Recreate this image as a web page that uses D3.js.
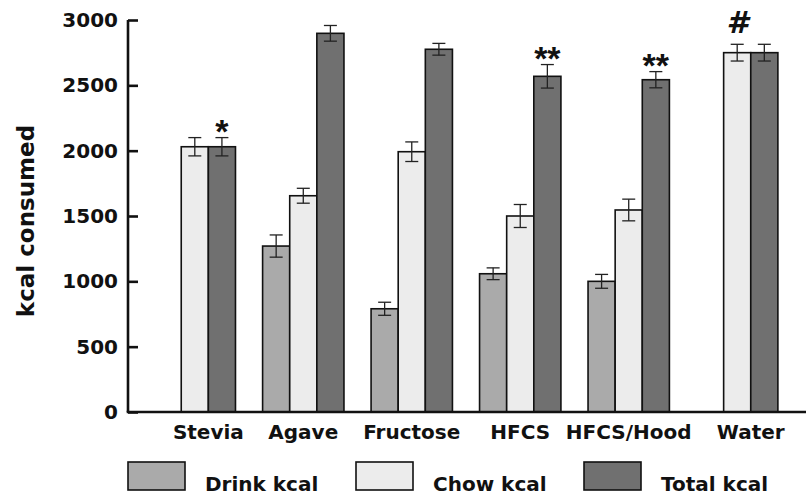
<!DOCTYPE html>
<html>
<head>
<meta charset="utf-8">
<script src="https://cdnjs.cloudflare.com/ajax/libs/d3/7.8.5/d3.min.js"></script>
<style>
  body { margin: 0; background: #fff; }
  text { font-family: "DejaVu Sans", sans-serif; font-weight: bold; fill: #111; }
</style>
</head>
<body>
<svg id="chart" width="806" height="497"></svg>
<script>
  // values
  const categories = ["Stevia", "Agave", "Fructose", "HFCS", "HFCS/Hood", "Water"];
  const series = ["drink", "chow", "total"];
  const seriesNames = ["Drink kcal", "Chow kcal", "Total kcal"];
  const seriesColors = ["#aaaaaa", "#ececec", "#707070"];

  const drink = [0, 1270, 790, 1058, 1000, 0];
  const drinkErr = [0, 85, 50, 45, 53, 0];
  const chow = [2030, 1655, 1992, 1500, 1546, 2750];
  const chowErr = [70, 57, 75, 88, 83, 64];
  const total = [2030, 2898, 2776, 2569, 2543, 2750];
  const totalErr = [70, 60, 45, 90, 62, 64];

  const yTicks = [0, 500, 1000, 1500, 2000, 2500, 3000];

  // significance marks: category, series it sits over, symbol
  const markCats = ["Stevia", "HFCS", "HFCS/Hood", "Water"];
  const markSeries = ["total", "total", "total", "chow"];
  const markText = ["*", "**", "**", "#"];

  const values = { drink: drink, chow: chow, total: total };
  const errs = { drink: drinkErr, chow: chowErr, total: totalErr };

  const svg = d3.select("#chart");
  const margin = { top: 20, left: 128, right: 1, bottom: 85 };
  const height = 497 - margin.bottom;

  const x0 = d3.scaleBand().domain(categories).range([127, 805])
    .paddingInner(0.25).paddingOuter(0.25);
  const x1 = d3.scaleBand().domain(series).range([0, x0.bandwidth()]);
  const y = d3.scaleLinear().domain([0, 3000]).range([height, margin.top]);
  const color = d3.scaleOrdinal().domain(series).range(seriesColors);

  const data = categories.map((c, i) => ({
    cat: c,
    bars: series.map(s => ({ cat: c, key: s, value: values[s][i], err: errs[s][i] }))
  }));

  // bars
  const groups = svg.selectAll(".grp").data(data).enter().append("g")
    .attr("class", "grp")
    .attr("transform", d => `translate(${x0(d.cat)},0)`);

  const bars = groups.selectAll(".bar").data(d => d.bars.filter(b => b.value > 0))
    .enter().append("g").attr("class", "bar");

  bars.append("rect")
    .attr("x", d => x1(d.key))
    .attr("width", x1.bandwidth())
    .attr("y", d => y(d.value))
    .attr("height", d => y(0) - y(d.value))
    .attr("fill", d => color(d.key))
    .attr("stroke", "#111")
    .attr("stroke-width", 1.6);

  // error bars
  const cap = 6.5;
  const eb = bars.append("g").attr("stroke", "#222").attr("stroke-width", 1.3);
  eb.append("line")
    .attr("x1", d => x1(d.key) + x1.bandwidth() / 2)
    .attr("x2", d => x1(d.key) + x1.bandwidth() / 2)
    .attr("y1", d => y(d.value + d.err))
    .attr("y2", d => y(d.value - d.err));
  eb.append("line")
    .attr("x1", d => x1(d.key) + x1.bandwidth() / 2 - cap)
    .attr("x2", d => x1(d.key) + x1.bandwidth() / 2 + cap)
    .attr("y1", d => y(d.value + d.err))
    .attr("y2", d => y(d.value + d.err));
  eb.append("line")
    .attr("x1", d => x1(d.key) + x1.bandwidth() / 2 - cap)
    .attr("x2", d => x1(d.key) + x1.bandwidth() / 2 + cap)
    .attr("y1", d => y(d.value - d.err))
    .attr("y2", d => y(d.value - d.err));

  // significance marks
  markCats.forEach((c, i) => {
    const ci = categories.indexOf(c);
    const s = markSeries[i];
    const top = y(values[s][ci] + errs[s][ci]);
    const cx = x0(c) + x1(s) + x1.bandwidth() / 2;
    if (markText[i] === "#") {
      svg.append("text")
        .attr("x", cx).attr("y", top - 11)
        .attr("text-anchor", "middle")
        .style("font-size", "31px")
        .style("font-style", "italic")
        .text(markText[i]);
    } else {
      svg.append("text")
        .attr("x", cx).attr("y", top + 5)
        .attr("text-anchor", "middle")
        .style("font-family", "'Liberation Sans', Arial, sans-serif")
        .style("font-size", "34px")
        .text(markText[i]);
    }
  });

  // y axis
  const yAxis = svg.append("g")
    .attr("transform", `translate(${margin.left},0)`)
    .call(d3.axisLeft(y).tickValues(yTicks).tickFormat(d3.format("d")).tickSize(-10).tickPadding(10));
  yAxis.select(".domain").attr("stroke", "#111").attr("stroke-width", 2.6)
    .attr("d", `M0,${margin.top}V${y(0)}`);
  yAxis.selectAll(".tick line").attr("stroke", "#111").attr("stroke-width", 2.6);
  yAxis.selectAll(".tick text")
    .style("font-family", "'DejaVu Sans', sans-serif")
    .style("font-weight", "bold")
    .style("font-size", "20px")
    .attr("fill", "#111");

  // x axis baseline
  svg.append("line")
    .attr("x1", margin.left - 1.3).attr("x2", 806)
    .attr("y1", y(0)).attr("y2", y(0))
    .attr("stroke", "#111").attr("stroke-width", 2.6);

  // category labels, centred on the bars that are drawn
  svg.selectAll(".cat").data(data).enter().append("text")
    .attr("class", "cat")
    .attr("x", d => d3.mean(d.bars.filter(b => b.value > 0), b => x0(d.cat) + x1(b.key) + x1.bandwidth() / 2))
    .attr("y", 439)
    .attr("text-anchor", "middle")
    .style("font-size", "20px")
    .text(d => d.cat);

  // y title
  svg.append("text")
    .attr("transform", "translate(34,221) rotate(-90)")
    .attr("text-anchor", "middle")
    .style("font-size", "23px")
    .text("kcal consumed");

  // legend
  const legend = svg.selectAll(".legend").data(series).enter().append("g")
    .attr("class", "legend")
    .attr("transform", (d, i) => `translate(${128 + i * 228},462)`);
  legend.append("rect")
    .attr("width", 57).attr("height", 28)
    .attr("fill", d => color(d))
    .attr("stroke", "#111").attr("stroke-width", 1.6);
  legend.append("text")
    .attr("x", 77).attr("y", 28.5)
    .style("font-size", "20px")
    .text((d, i) => seriesNames[i]);
</script>
</body>
</html>
